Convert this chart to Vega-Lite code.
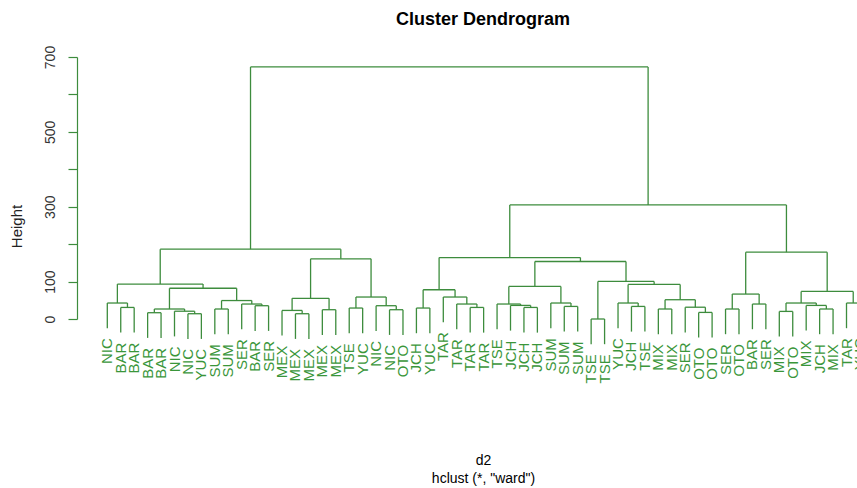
{
  "$schema": "https://vega.github.io/schema/vega-lite/v6.json",
  "width": 780,
  "height": 262,
  "autosize": {"type": "none"},
  "padding": {"left": 77, "top": 57, "right": 0, "bottom": 169},
  "background": "white",
  "config": {"view": {"stroke": null}, "font": "Liberation Sans"},
  "title": {"text": "Cluster Dendrogram", "fontSize": 18, "fontWeight": "bold", "font": "Liberation Sans", "color": "#000000", "anchor": "middle", "frame": "group", "dx": 16, "offset": 2, "baseline": "alphabetic"},
  "datasets": {
    "nodes": [
      {"xa": 2, "xb": 3, "h": 30.9, "ha": -36.4, "hb": -36.4},
      {"xa": 1, "xb": 2.5, "h": 42.7, "ha": -24.6, "hb": 30.9},
      {"xa": 4, "xb": 5, "h": 16.8, "ha": -50.5, "hb": -50.5},
      {"xa": 7, "xb": 8, "h": 14.1, "ha": -53.2, "hb": -53.2},
      {"xa": 6, "xb": 7.5, "h": 20.8, "ha": -46.5, "hb": 14.1},
      {"xa": 4.5, "xb": 6.75, "h": 26.7, "ha": 16.8, "hb": 20.8},
      {"xa": 9, "xb": 10, "h": 26.7, "ha": -40.6, "hb": -40.6},
      {"xa": 12, "xb": 13, "h": 35.5, "ha": -31.8, "hb": -31.8},
      {"xa": 11, "xb": 12.5, "h": 40, "ha": -27.3, "hb": 35.5},
      {"xa": 9.5, "xb": 11.75, "h": 49.3, "ha": 26.7, "hb": 40},
      {"xa": 5.625, "xb": 10.625, "h": 82.1, "ha": 26.7, "hb": 49.3},
      {"xa": 1.75, "xb": 8.125, "h": 93.3, "ha": 42.7, "hb": 82.1},
      {"xa": 15, "xb": 16, "h": 14.1, "ha": -53.2, "hb": -53.2},
      {"xa": 14, "xb": 15.5, "h": 22.9, "ha": -44.4, "hb": 14.1},
      {"xa": 17, "xb": 18, "h": 24.8, "ha": -42.5, "hb": -42.5},
      {"xa": 14.75, "xb": 17.5, "h": 55.2, "ha": 22.9, "hb": 24.8},
      {"xa": 19, "xb": 20, "h": 29.3, "ha": -38, "hb": -38},
      {"xa": 22, "xb": 23, "h": 24.8, "ha": -42.5, "hb": -42.5},
      {"xa": 21, "xb": 22.5, "h": 35.5, "ha": -31.8, "hb": 24.8},
      {"xa": 19.5, "xb": 21.75, "h": 58.7, "ha": 29.3, "hb": 35.5},
      {"xa": 16.125, "xb": 20.625, "h": 160.8, "ha": 55.2, "hb": 58.7},
      {"xa": 4.9375, "xb": 18.375, "h": 186.6, "ha": 93.3, "hb": 160.8},
      {"xa": 24, "xb": 25, "h": 29.3, "ha": -38, "hb": -38},
      {"xa": 28, "xb": 29, "h": 30.9, "ha": -36.4, "hb": -36.4},
      {"xa": 27, "xb": 28.5, "h": 40, "ha": -27.3, "hb": 30.9},
      {"xa": 26, "xb": 27.75, "h": 58.7, "ha": -8.6, "hb": 40},
      {"xa": 24.5, "xb": 26.875, "h": 78.1, "ha": 29.3, "hb": 58.7},
      {"xa": 32, "xb": 33, "h": 30.9, "ha": -36.4, "hb": -36.4},
      {"xa": 31, "xb": 32.5, "h": 36.3, "ha": -31, "hb": 30.9},
      {"xa": 30, "xb": 31.75, "h": 40, "ha": -27.3, "hb": 36.3},
      {"xa": 35, "xb": 36, "h": 33.6, "ha": -33.7, "hb": -33.7},
      {"xa": 34, "xb": 35.5, "h": 42.7, "ha": -24.6, "hb": 33.6},
      {"xa": 30.875, "xb": 34.75, "h": 86.9, "ha": 40, "hb": 42.7},
      {"xa": 37, "xb": 38, "h": 0, "ha": -67.3, "hb": -67.3},
      {"xa": 40, "xb": 41, "h": 33.6, "ha": -33.7, "hb": -33.7},
      {"xa": 39, "xb": 40.5, "h": 42.7, "ha": -24.6, "hb": 33.6},
      {"xa": 42, "xb": 43, "h": 26.7, "ha": -40.6, "hb": -40.6},
      {"xa": 45, "xb": 46, "h": 17.6, "ha": -49.7, "hb": -49.7},
      {"xa": 44, "xb": 45.5, "h": 31.5, "ha": -35.8, "hb": 17.6},
      {"xa": 42.5, "xb": 44.75, "h": 51.5, "ha": 26.7, "hb": 31.5},
      {"xa": 39.75, "xb": 43.625, "h": 92.3, "ha": 42.7, "hb": 51.5},
      {"xa": 37.5, "xb": 41.6875, "h": 100.3, "ha": 0, "hb": 92.3},
      {"xa": 32.8125, "xb": 39.59375, "h": 153.6, "ha": 86.9, "hb": 100.3},
      {"xa": 25.6875, "xb": 36.203125, "h": 164.2, "ha": 78.1, "hb": 153.6},
      {"xa": 47, "xb": 48, "h": 26.7, "ha": -40.6, "hb": -40.6},
      {"xa": 49, "xb": 50, "h": 40, "ha": -27.3, "hb": -27.3},
      {"xa": 47.5, "xb": 49.5, "h": 66.6, "ha": 26.7, "hb": 40},
      {"xa": 51, "xb": 52, "h": 20.3, "ha": -47, "hb": -47},
      {"xa": 54, "xb": 55, "h": 26.7, "ha": -40.6, "hb": -40.6},
      {"xa": 53, "xb": 54.5, "h": 36.3, "ha": -31, "hb": 26.7},
      {"xa": 51.5, "xb": 53.75, "h": 42.7, "ha": 20.3, "hb": 36.3},
      {"xa": 56, "xb": 57, "h": 42.7, "ha": -24.6, "hb": -24.6},
      {"xa": 52.625, "xb": 56.5, "h": 73.6, "ha": 42.7, "hb": 42.7},
      {"xa": 48.5, "xb": 54.5625, "h": 178.6, "ha": 66.6, "hb": 73.6},
      {"xa": 30.9453125, "xb": 51.53125, "h": 304.7, "ha": 164.2, "hb": 178.6},
      {"xa": 11.65625, "xb": 41.23828125, "h": 673.4, "ha": 186.6, "hb": 304.7}
    ],
    "leaves": [
      {"i": 1, "label": "NIC", "bottom": -24.6},
      {"i": 2, "label": "BAR", "bottom": -36.4},
      {"i": 3, "label": "BAR", "bottom": -36.4},
      {"i": 4, "label": "BAR", "bottom": -50.5},
      {"i": 5, "label": "BAR", "bottom": -50.5},
      {"i": 6, "label": "NIC", "bottom": -46.5},
      {"i": 7, "label": "NIC", "bottom": -53.2},
      {"i": 8, "label": "YUC", "bottom": -53.2},
      {"i": 9, "label": "SUM", "bottom": -40.6},
      {"i": 10, "label": "SUM", "bottom": -40.6},
      {"i": 11, "label": "SER", "bottom": -27.3},
      {"i": 12, "label": "BAR", "bottom": -31.8},
      {"i": 13, "label": "SER", "bottom": -31.8},
      {"i": 14, "label": "MEX", "bottom": -44.4},
      {"i": 15, "label": "MEX", "bottom": -53.2},
      {"i": 16, "label": "MEX", "bottom": -53.2},
      {"i": 17, "label": "MEX", "bottom": -42.5},
      {"i": 18, "label": "MEX", "bottom": -42.5},
      {"i": 19, "label": "TSE", "bottom": -38},
      {"i": 20, "label": "YUC", "bottom": -38},
      {"i": 21, "label": "NIC", "bottom": -31.8},
      {"i": 22, "label": "NIC", "bottom": -42.5},
      {"i": 23, "label": "OTO", "bottom": -42.5},
      {"i": 24, "label": "JCH", "bottom": -38},
      {"i": 25, "label": "YUC", "bottom": -38},
      {"i": 26, "label": "TAR", "bottom": -8.6},
      {"i": 27, "label": "TAR", "bottom": -27.3},
      {"i": 28, "label": "TAR", "bottom": -36.4},
      {"i": 29, "label": "TAR", "bottom": -36.4},
      {"i": 30, "label": "TSE", "bottom": -27.3},
      {"i": 31, "label": "JCH", "bottom": -31},
      {"i": 32, "label": "JCH", "bottom": -36.4},
      {"i": 33, "label": "JCH", "bottom": -36.4},
      {"i": 34, "label": "SUM", "bottom": -24.6},
      {"i": 35, "label": "SUM", "bottom": -33.7},
      {"i": 36, "label": "SUM", "bottom": -33.7},
      {"i": 37, "label": "TSE", "bottom": -67.3},
      {"i": 38, "label": "TSE", "bottom": -67.3},
      {"i": 39, "label": "YUC", "bottom": -24.6},
      {"i": 40, "label": "JCH", "bottom": -33.7},
      {"i": 41, "label": "TSE", "bottom": -33.7},
      {"i": 42, "label": "MIX", "bottom": -40.6},
      {"i": 43, "label": "MIX", "bottom": -40.6},
      {"i": 44, "label": "SER", "bottom": -35.8},
      {"i": 45, "label": "OTO", "bottom": -49.7},
      {"i": 46, "label": "OTO", "bottom": -49.7},
      {"i": 47, "label": "SER", "bottom": -40.6},
      {"i": 48, "label": "OTO", "bottom": -40.6},
      {"i": 49, "label": "BAR", "bottom": -27.3},
      {"i": 50, "label": "SER", "bottom": -27.3},
      {"i": 51, "label": "MIX", "bottom": -47},
      {"i": 52, "label": "OTO", "bottom": -47},
      {"i": 53, "label": "MIX", "bottom": -31},
      {"i": 54, "label": "JCH", "bottom": -40.6},
      {"i": 55, "label": "MIX", "bottom": -40.6},
      {"i": 56, "label": "TAR", "bottom": -24.6},
      {"i": 57, "label": "YUC", "bottom": -24.6}
    ]
  },
  "layer": [
    {
      "data": {"name": "nodes"},
      "mark": {"type": "rule", "color": "#3d8c3d", "strokeWidth": 1.3},
      "encoding": {
        "x": {"field": "xa", "type": "quantitative",
              "scale": {"domain": [-1.2545, 56.781], "nice": false, "zero": false},
              "axis": {"domain": false, "ticks": false, "labels": false, "grid": false,
                       "title": ["d2", "hclust (*, \"ward\")"], "titleFontSize": 14, "titleFontWeight": "normal",
                       "titleColor": "#000000", "titleFont": "Liberation Sans", "titleX": 406, "titleY": 134,
                       "titleAlign": "center", "titleBaseline": "top", "titleLineHeight": 18}},
        "x2": {"field": "xb"},
        "y": {"field": "h", "type": "quantitative",
              "scale": {"domain": [0, 700], "nice": false, "zero": false},
              "axis": {"values": [0, 100, 200, 300, 400, 500, 600, 700], "tickCount": 8,
                       "labelExpr": "(datum.value == 200 || datum.value == 400 || datum.value == 600) ? '' : datum.label",
                       "grid": false, "domainColor": "#3d8c3d", "tickColor": "#3d8c3d", "tickSize": 9,
                       "domainWidth": 1.2, "tickWidth": 1.2,
                       "labelAngle": 270, "labelAlign": "center", "labelBaseline": "bottom", "labelPadding": 11,
                       "labelFontSize": 14, "labelColor": "#333333", "labelFont": "Liberation Sans",
                       "labelOverlap": false, "labelFlush": false,
                       "title": "Height", "titleFontSize": 15, "titleFontWeight": "normal", "titleColor": "#222222",
                       "titleFont": "Liberation Sans", "titleAngle": 270, "titleX": -61, "titleY": 169,
                       "titleAlign": "center", "titleBaseline": "middle"}}
      }
    },
    {
      "data": {"name": "nodes"},
      "mark": {"type": "rule", "color": "#3d8c3d", "strokeWidth": 1.3},
      "encoding": {
        "x": {"field": "xa", "type": "quantitative",
              "axis": {"domain": false, "ticks": false, "labels": false, "grid": false,
                       "title": ["d2", "hclust (*, \"ward\")"], "titleFontSize": 14, "titleFontWeight": "normal",
                       "titleColor": "#000000", "titleFont": "Liberation Sans", "titleX": 406, "titleY": 134,
                       "titleAlign": "center", "titleBaseline": "top", "titleLineHeight": 18}},
        "y": {"field": "h", "type": "quantitative",
              "axis": {"values": [0, 100, 200, 300, 400, 500, 600, 700], "tickCount": 8,
                       "labelExpr": "(datum.value == 200 || datum.value == 400 || datum.value == 600) ? '' : datum.label",
                       "grid": false, "domainColor": "#3d8c3d", "tickColor": "#3d8c3d", "tickSize": 9,
                       "domainWidth": 1.2, "tickWidth": 1.2,
                       "labelAngle": 270, "labelAlign": "center", "labelBaseline": "bottom", "labelPadding": 11,
                       "labelFontSize": 14, "labelColor": "#333333", "labelFont": "Liberation Sans",
                       "labelOverlap": false, "labelFlush": false,
                       "title": "Height", "titleFontSize": 15, "titleFontWeight": "normal", "titleColor": "#222222",
                       "titleFont": "Liberation Sans", "titleAngle": 270, "titleX": -61, "titleY": 169,
                       "titleAlign": "center", "titleBaseline": "middle"}},
        "y2": {"field": "ha"}
      }
    },
    {
      "data": {"name": "nodes"},
      "mark": {"type": "rule", "color": "#3d8c3d", "strokeWidth": 1.3},
      "encoding": {
        "x": {"field": "xb", "type": "quantitative",
              "axis": {"domain": false, "ticks": false, "labels": false, "grid": false,
                       "title": ["d2", "hclust (*, \"ward\")"], "titleFontSize": 14, "titleFontWeight": "normal",
                       "titleColor": "#000000", "titleFont": "Liberation Sans", "titleX": 406, "titleY": 134,
                       "titleAlign": "center", "titleBaseline": "top", "titleLineHeight": 18}},
        "y": {"field": "h", "type": "quantitative",
              "axis": {"values": [0, 100, 200, 300, 400, 500, 600, 700], "tickCount": 8,
                       "labelExpr": "(datum.value == 200 || datum.value == 400 || datum.value == 600) ? '' : datum.label",
                       "grid": false, "domainColor": "#3d8c3d", "tickColor": "#3d8c3d", "tickSize": 9,
                       "domainWidth": 1.2, "tickWidth": 1.2,
                       "labelAngle": 270, "labelAlign": "center", "labelBaseline": "bottom", "labelPadding": 11,
                       "labelFontSize": 14, "labelColor": "#333333", "labelFont": "Liberation Sans",
                       "labelOverlap": false, "labelFlush": false,
                       "title": "Height", "titleFontSize": 15, "titleFontWeight": "normal", "titleColor": "#222222",
                       "titleFont": "Liberation Sans", "titleAngle": 270, "titleX": -61, "titleY": 169,
                       "titleAlign": "center", "titleBaseline": "middle"}},
        "y2": {"field": "hb"}
      }
    },
    {
      "data": {"name": "leaves"},
      "mark": {"type": "text", "angle": 270, "align": "right", "baseline": "middle", "dx": -10,
               "fontSize": 15, "font": "Liberation Sans", "color": "#3a963a"},
      "encoding": {
        "x": {"field": "i", "type": "quantitative",
              "axis": {"domain": false, "ticks": false, "labels": false, "grid": false,
                       "title": ["d2", "hclust (*, \"ward\")"], "titleFontSize": 14, "titleFontWeight": "normal",
                       "titleColor": "#000000", "titleFont": "Liberation Sans", "titleX": 406, "titleY": 134,
                       "titleAlign": "center", "titleBaseline": "top", "titleLineHeight": 18}},
        "y": {"field": "bottom", "type": "quantitative",
              "axis": {"values": [0, 100, 200, 300, 400, 500, 600, 700], "tickCount": 8,
                       "labelExpr": "(datum.value == 200 || datum.value == 400 || datum.value == 600) ? '' : datum.label",
                       "grid": false, "domainColor": "#3d8c3d", "tickColor": "#3d8c3d", "tickSize": 9,
                       "domainWidth": 1.2, "tickWidth": 1.2,
                       "labelAngle": 270, "labelAlign": "center", "labelBaseline": "bottom", "labelPadding": 11,
                       "labelFontSize": 14, "labelColor": "#333333", "labelFont": "Liberation Sans",
                       "labelOverlap": false, "labelFlush": false,
                       "title": "Height", "titleFontSize": 15, "titleFontWeight": "normal", "titleColor": "#222222",
                       "titleFont": "Liberation Sans", "titleAngle": 270, "titleX": -61, "titleY": 169,
                       "titleAlign": "center", "titleBaseline": "middle"}},
        "text": {"field": "label"}
      }
    }
  ]
}
